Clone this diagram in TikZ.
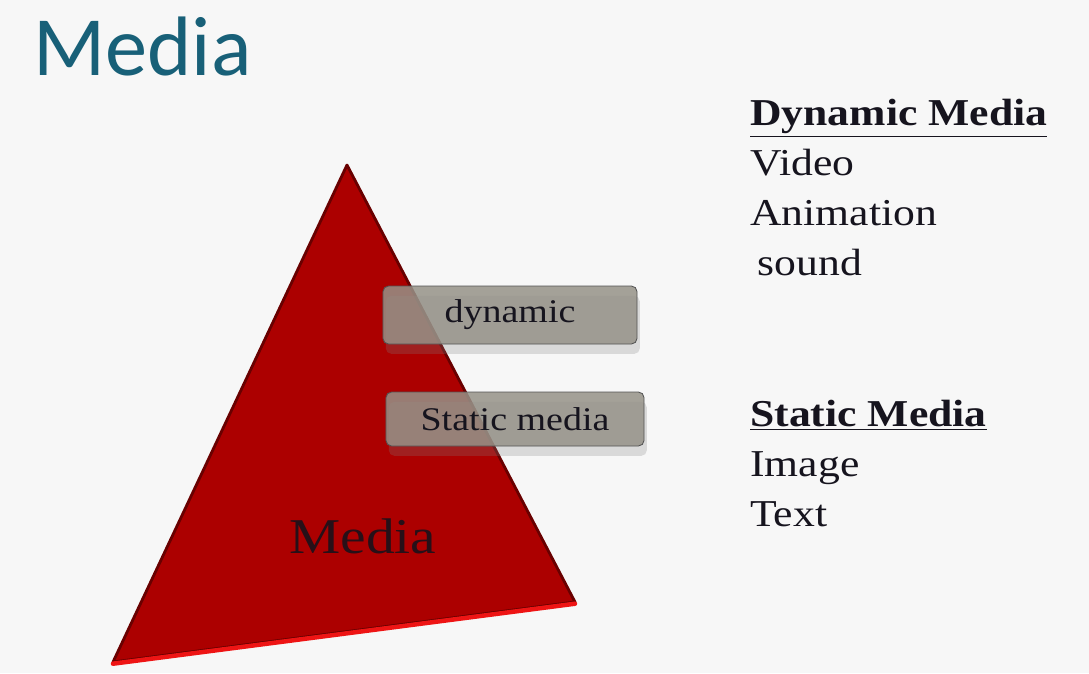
\documentclass[tikz,border=0pt]{standalone}
\usepackage{fontspec}
\setmainfont[FakeStretch=1.15]{Liberation Serif}
\newfontfamily\titlefont{Carlito}
\usepackage{tikz}
\usetikzlibrary{positioning,shadows}
\definecolor{titleteal}{RGB}{24,96,120}
\definecolor{pagebg}{RGB}{247,247,247}
\definecolor{pyred}{RGB}{172,0,0}
\definecolor{pyedge}{RGB}{105,0,0}
\definecolor{pyrim}{RGB}{238,20,20}
\definecolor{tabgrey}{RGB}{150,146,136}
\definecolor{inkdark}{RGB}{22,20,30}
\tikzset{
  tab/.style={rectangle,rounded corners=4pt,draw=gray!65!black,line width=0.6pt,fill=tabgrey,fill opacity=0.85,text opacity=1,text=inkdark,font=\fontsize{23.5}{26}\selectfont,drop shadow={shadow xshift=2pt,shadow yshift=-7pt,opacity=0.25,fill=gray}},
  listblock/.style={anchor=north west,inner sep=0pt,align=left,text=inkdark,font=\fontsize{27}{35.6}\selectfont}
}

\begin{document}
\begin{tikzpicture}[x=0.025cm,y=-0.025cm]
  % page
  \fill[pagebg] (0,0) rectangle (1089,673);
  \useasboundingbox (0,0) rectangle (1089,673);

  \node[anchor=base west,inner sep=0pt,text=titleteal,font=\titlefont\fontsize{60}{64}\selectfont] (title) at (33,75) {Media};

  % the pyramid
  \coordinate (apex) at (347,165);
  \coordinate (right) at (575,602);
  \coordinate (left) at (113,662);
  \fill[pyred] (apex) -- (right) -- (left) -- cycle;
  \draw[pyedge,line width=2pt,line join=round] (apex) -- (right) -- (left) -- cycle;
  \draw[pyrim,line width=3.2pt,line cap=round] ([yshift=-1.2pt]right) -- ([yshift=-1.2pt]left);
  \node[text=inkdark!80!pyedge,font=\fontsize{35.6}{40}\selectfont] (pymedia) at (363,536) {Media};

  % tabs over the right edge
  \node[tab,minimum width=6.35cm,minimum height=1.45cm] (dyntab) at (510,315) {dynamic};
  \node[tab,minimum width=6.45cm,minimum height=1.35cm] (stattab) at (515,419) {Static media};

  % lists on the right
  \node[listblock] (dynlist) at (750,99) {\textbf{\underline{Dynamic Media}}\\Video\\Animation\\\hspace*{0.2em}sound};
  \node[listblock] (statlist) at (750,400) {\textbf{\underline{Static Media}}\\Image\\Text};
\end{tikzpicture}
\end{document}
